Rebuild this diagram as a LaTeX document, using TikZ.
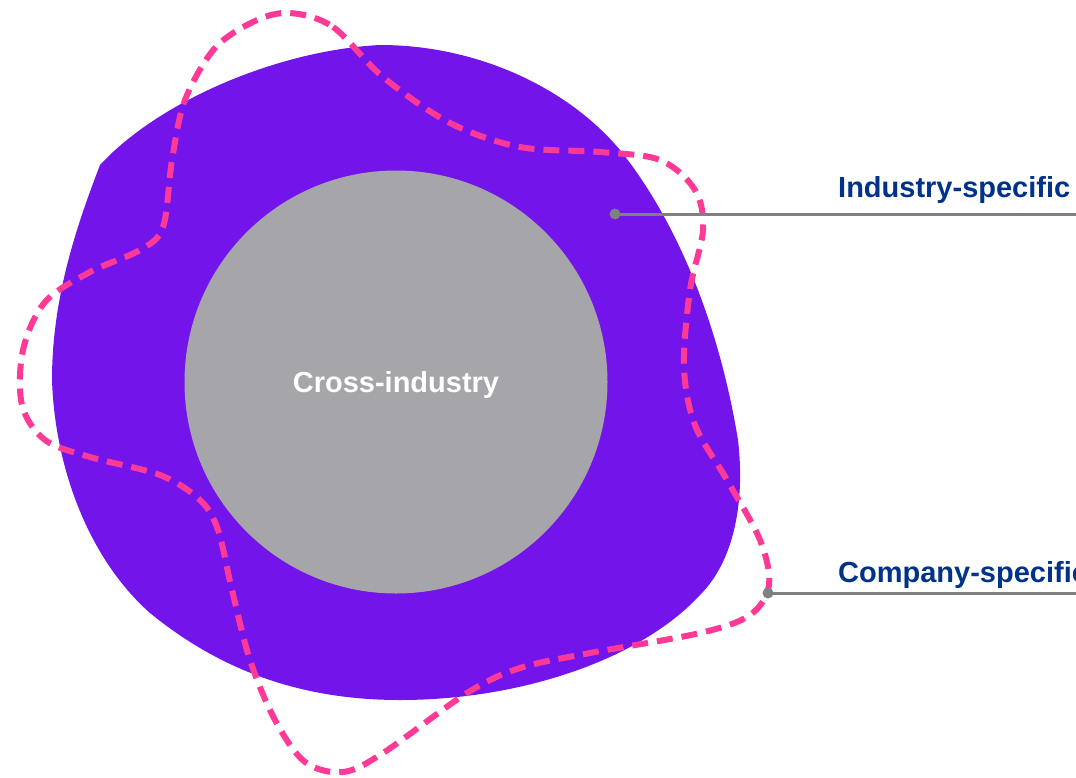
\documentclass[tikz,border=0pt]{standalone}
\usepackage{fontspec}
\setmainfont{Liberation Sans}
\usetikzlibrary{positioning}
\definecolor{blobpurple}{RGB}{114,20,234}
\definecolor{coregray}{RGB}{166,166,170}
\definecolor{dashpink}{RGB}{255,58,150}
\definecolor{tagblue}{RGB}{0,50,140}
\definecolor{leadgray}{RGB}{128,128,128}
\tikzstyle{core} = [circle, fill=coregray, minimum size=423pt, inner sep=0pt, text depth=0pt, text=white, font=\bfseries\fontsize{29}{34}\selectfont]
\tikzstyle{tag} = [anchor=base west, inner sep=0pt, text=tagblue, font=\bfseries\fontsize{29}{34}\selectfont]
\tikzstyle{leader} = [draw=leadgray, line width=3pt]
\tikzstyle{pin} = [circle, fill=leadgray, minimum size=11pt, inner sep=0pt]
\tikzstyle{border} = [draw=dashpink, line width=6pt, dash pattern=on 16pt off 9pt]

\begin{document}
\begin{tikzpicture}[x=1pt, y=-1pt]
\clip (0,0) rectangle (1076,777);

% Industry layer (purple blob)
\fill[blobpurple] (100,165) .. controls (160,100) and (280,50) .. (380,45)
  .. controls (480,45) and (570,90) .. (620,150)
  .. controls (680,225) and (720,330) .. (738,440)
  .. controls (745,500) and (735,560) .. (700,595)
  .. controls (640,660) and (520,700) .. (400,700)
  .. controls (300,700) and (220,670) .. (150,613)
  .. controls (90,560) and (55,470) .. (52,380)
  .. controls (52,300) and (75,230) .. (100,165) -- cycle;

% Core circle
\node (cross) [core] at (396,382) {Cross-industry};

% Company layer (dashed outline)
\draw[border] plot[smooth cycle, tension=0.55] coordinates {
  (290,13) (333,27) (383,77) (450,123) (520,147) (600,152) (660,160) (695,190)
  (703,230) (690,290) (684,367) (695,425) (727,480) (760,540) (769,585) (750,615)
  (700,633) (590,653) (520,668) (467,693) (383,753) (343,772) (305,762) (275,720)
  (250,660) (232,590) (218,530) (200,500) (160,475) (90,457) (45,440) (22,405)
  (23,350) (45,302) (90,272) (140,250) (163,227) (172,160) (185,100) (215,48) (255,21)};

% Labels
\node (industry) [tag] at (838,197) {Industry-specific};
\node (company) [tag] at (838,582) {Company-specific};

% Leader lines
\node (indpin) [pin] at (615,214) {};
\node (compin) [pin] at (768,593) {};
\coordinate (indend) at (1076,214);
\coordinate (comend) at (1076,593);
\draw [leader] (indpin.center) -- (indend);
\draw [leader] (compin.center) -- (comend);

\end{tikzpicture}
\end{document}
